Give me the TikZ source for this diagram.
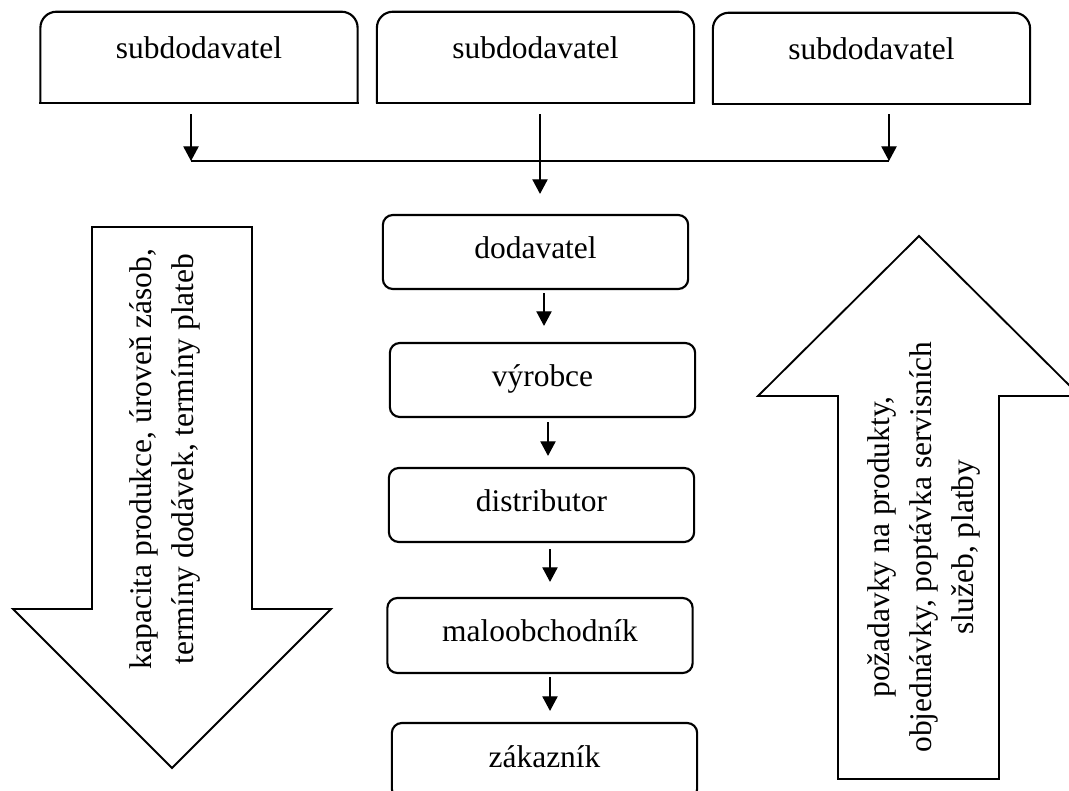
\documentclass[tikz,border=0pt]{standalone}
\usepackage{fontspec}
\setmainfont{Liberation Serif}
\usetikzlibrary{arrows.meta,calc}
\begin{document}
\begin{tikzpicture}[x=0.75pt,y=-0.75pt,
  conn/.style={line width=1pt,-{Triangle[width=11.5pt,length=11pt]}},
  plain/.style={line width=1pt},
  subbox/.style={draw=none,minimum width=237.5pt,minimum height=68.25pt,inner sep=0pt,text height=2pt,text depth=0pt,font=\fontsize{23.6pt}{28pt}\selectfont},
  subframe/.style={line width=1.6pt},
  chainbox/.style={draw,line width=1.6pt,rounded corners=7.5pt,minimum width=229pt,minimum height=55.5pt,inner sep=0pt,text height=9pt,text depth=0pt,font=\fontsize{23.6pt}{28pt}\selectfont},
  bigarrow/.style={draw,line width=1.4pt,line join=miter},
  flowtext/.style={rotate=90,align=center,inner sep=0pt,font=\fontsize{23.6pt}{31.5pt}\selectfont}
]
\useasboundingbox (0,0) rectangle (1069,791);
\clip (0,0) rectangle (1069,791);

% big arrows
\draw[bigarrow] (92,227) -- (252,227) -- (252,609) -- (331,609) -- (172,768) -- (13,609) -- (92,609) -- cycle;
\draw[bigarrow] (838,779) -- (838,396) -- (758,396) -- (919,236) -- (1080,396) -- (999,396) -- (999,779) -- cycle;
\node[flowtext] (lt) at (165,459) {kapacita produkce, úroveň zásob,\\termíny dodávek, termíny plateb};
\node[flowtext] (rt) at (924,547) {požadavky na produkty,\\objednávky, poptávka servisních\\služeb, platby};

% subcontractors
\node[subbox] (s1) at (199,57.5) {subdodavatel};
\node[subbox] (s2) at (535.5,57.5) {subdodavatel};
\node[subbox] (s3) at (871.5,58.5) {subdodavatel};
\foreach \n in {s1,s2,s3} {
  \draw[subframe,rounded corners=12pt] (\n.south west) -- (\n.north west) -- (\n.north east) -- (\n.south east);
  \draw[subframe,line cap=rect] (\n.south west) -- (\n.south east);
}

% chain
\node[chainbox] (d1) at (535.5,252) {dodavatel};
\node[chainbox] (d2) at (542.5,380) {výrobce};
\node[chainbox] (d3) at (541.5,505) {distributor};
\node[chainbox,minimum height=56.25pt] (d4) at (540,635.5) {maloobchodník};
\node[chainbox,minimum height=57pt] (d5) at (544.5,761) {zákazník};

% connectors
\coordinate (j1) at (191,161);
\coordinate (j3) at (889,161);
\draw[conn] ($(s1.south)+(-8,11)$) -- (j1);
\draw[conn] ($(s3.south)+(17.5,10)$) -- (j3);
\draw[plain] (j1) -- (j3);
\draw[conn] ($(s2.south)+(4.5,11)$) -- ($(d1.north)+(4.5,-20)$);
\draw[conn] ($(d1.south)+(8.5,3)$) -- ($(d2.north)+(1.5,-16)$);
\draw[conn] ($(d2.south)+(5.5,4)$) -- ($(d3.north)+(6.5,-11)$);
\draw[conn] ($(d3.south)+(8.5,6)$) -- ($(d4.north)+(10,-15)$);
\draw[conn] ($(d4.south)+(10,3)$) -- ($(d5.north)+(5.5,-11)$);
\end{tikzpicture}
\end{document}
